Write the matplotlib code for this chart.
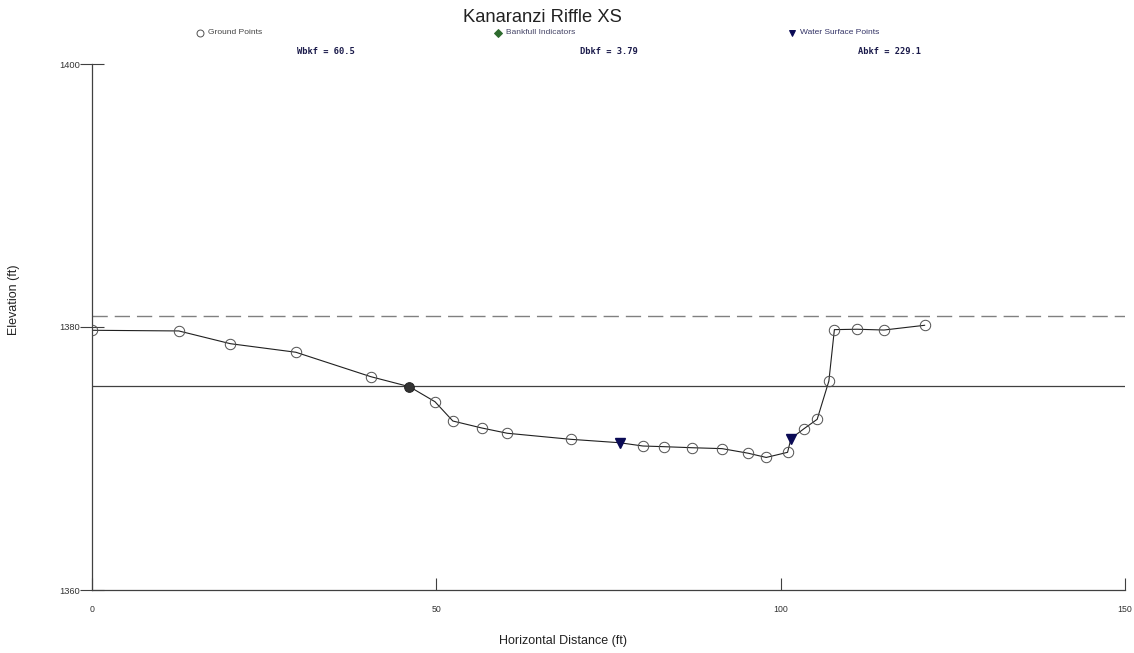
"""
Kanaranzi Riffle XS - cross-section plot (ground points, bankfull, water surface).
"""

import matplotlib
matplotlib.use('Agg')
import matplotlib.pyplot as plt
from matplotlib.lines import Line2D

plt.rcParams['font.family'] = ['Liberation Sans', 'DejaVu Sans']

# ---------------------------------------------------------------------------
# Data
# ---------------------------------------------------------------------------
station = [0.0, 12.6, 20.1, 29.6, 40.5, 46.1, 49.8, 52.4, 56.6, 60.3, 69.5,
           76.6, 80.0, 83.0, 87.1, 91.5, 95.3, 97.9, 101.0, 101.5, 103.4,
           105.3, 107.0, 107.8, 111.1, 115.0, 120.9]
elev = [1379.75, 1379.70, 1378.73, 1378.08, 1376.22, 1375.46, 1374.32,
        1372.85, 1372.32, 1371.92, 1371.46, 1371.20, 1370.95, 1370.90,
        1370.82, 1370.75, 1370.40, 1370.08, 1370.47, 1371.52, 1372.27,
        1372.98, 1375.89, 1379.80, 1379.83, 1379.77, 1380.13]

bkf_station = [46.1]
bkf_elev = [1375.46]

ws_station = [76.6, 101.5]
ws_elev = [1371.20, 1371.52]

bankfull_line = 1375.48
flood_line = 1380.86   # dashed line

stats = [('Wbkf = 60.5', 0.287), ('Dbkf = 3.79', 0.537), ('Abkf = 229.1', 0.784)]

# ground points = every surveyed point that is not bankfull / water surface
ground_x = [s for s in station if s not in bkf_station + ws_station]
ground_y = [e for s, e in zip(station, elev) if s not in bkf_station + ws_station]

# ---------------------------------------------------------------------------
# Figure
# ---------------------------------------------------------------------------
fig = plt.figure(figsize=(11.34, 6.53), dpi=100)
ax = fig.add_axes([92 / 1134, 1 - 590 / 653, 1033 / 1134, 526 / 653])

ax.axhline(flood_line, color='#808080', lw=1.0, dashes=(11, 5))
ax.axhline(bankfull_line, color='#404040', lw=0.9)

ax.plot(station, elev, color='#202020', lw=0.8, zorder=2)
ax.plot(ground_x, ground_y, 'o', ms=7.5, mfc='none', mec='#505050', mew=0.7, zorder=3)
ax.plot(bkf_station, bkf_elev, 'o', ms=7, mfc='#333333', mec='#222222', mew=0.7,
        zorder=4, clip_on=False)
ax.plot(ws_station, ws_elev, 'v', ms=6.5, mfc='#0a0a55', mec='#0a0a55', zorder=4,
        clip_on=False)

ax.set_xlim(0, 150)
ax.set_ylim(1360, 1400)
ax.set_xticks([0, 50, 100, 150])
ax.set_yticks([1360, 1380, 1400])

for side in ('top', 'right'):
    ax.spines[side].set_visible(False)
for side in ('left', 'bottom'):
    ax.spines[side].set_color('#404040')
    ax.spines[side].set_linewidth(0.9)

ax.tick_params(axis='x', direction='in', length=9, width=0.8, pad=11,
               labelsize=6.3, labelcolor='#333333', color='#404040')
ax.tick_params(axis='y', direction='inout', length=17, width=0.8, pad=0,
               labelsize=6.7, labelcolor='#333333', color='#404040')

# Titles / axis labels
fig.text(542 / 1134, 1 - 17 / 653, 'Kanaranzi Riffle XS', ha='center', va='center',
         fontsize=13.2, color='#222222')
fig.text(563 / 1134, 1 - 641 / 653, 'Horizontal Distance (ft)', ha='center',
         va='center', fontsize=9, color='#222222')
fig.text(14 / 1134, 1 - 300 / 653, 'Elevation (ft)', ha='center', va='center',
         rotation=90, fontsize=9, color='#222222')

# Legend row
legend_items = [
    (200 / 1134, 'o', 'white', '#505050', 'Ground Points', '#444444'),
    (498 / 1134, 'D', '#2e6b2e', '#2e6b2e', 'Bankfull Indicators', '#444466'),
    (792 / 1134, 'v', '#0a0a55', '#0a0a55', 'Water Surface Points', '#333366'),
]
ly = 1 - 33 / 653
for lx, mk, fc, ec, label, tc in legend_items:
    fig.add_artist(Line2D([lx], [ly], marker=mk, ms=5 if mk != 'D' else 4,
                          mfc=fc, mec=ec, mew=0.7, ls='none',
                          transform=fig.transFigure))
    fig.text(lx + 8 / 1134, ly, label, ha='left', va='center', fontsize=6,
             color=tc)

# Bankfull statistics
for label, sx in stats:
    fig.text(sx, 1 - 52 / 653, label, ha='center', va='center',
             family='DejaVu Sans Mono', fontweight='bold', fontsize=6.3,
             color='#1a1a4a')

fig.savefig('out.png', dpi=100, facecolor='white')
